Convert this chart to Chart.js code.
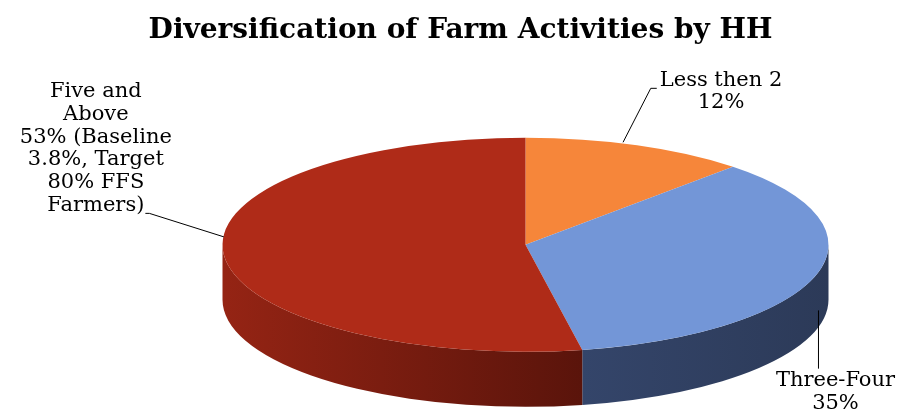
<!DOCTYPE html>
<html>
<head>
<meta charset="utf-8">
<script src="https://cdn.jsdelivr.net/npm/chart.js@4.4.1/dist/chart.umd.min.js"></script>
<style>
  html, body { margin: 0; padding: 0; background: #fff; }
  #wrap { width: 905px; height: 411px; }
</style>
</head>
<body>
<div id="wrap"><canvas id="farmPie" width="905" height="411"></canvas></div>
<script>
// データ
const categories = ['Less then 2', 'Three-Four', 'Five and Above'];
const shares = [12, 35, 53];
const labelLines = [
    ['Less then 2', '12%'],
    ['Three-Four', '35%'],
    ['Five and', 'Above', '53% (Baseline', '3.8%, Target', '80% FFS', 'Farmers)']
];

// 見た目
const topColors = ['#F6863A', '#7396D7', '#AF2B18'];
const sideColors = [['#C9631F', '#A04E18'], ['#34456A', '#2C3A58'], ['#952414', '#5A140B']];
const TILT = 107 / 303;   // 楕円の縦横比
const DEPTH = 55;         // 側面の厚み
const SHIFT_X = 65;       // タイトル中心からのずれ
const SERIF = '"DejaVu Serif", serif';
const LABEL_FONT = '21px ' + SERIF;
const LINE_H = 22.7;
// ラベル位置（アンカーからの相対位置）
const labelLayout = [
    { dx: 84, dy: -65, leader: 'left' },
    { dx: 19, dy: 106, leader: 'up' },
    { dx: -128, dy: -163, leader: 'right' }
];

function pieCenter(chart) {
    const arc = chart.getDatasetMeta(0).data[0];
    return { x: arc.x + SHIFT_X, y: arc.y, r: arc.outerRadius };
}

const pie3d = {
    id: 'pie3d',
    beforeDatasetsDraw(chart) {
        const ctx = chart.ctx;
        const arcs = chart.getDatasetMeta(0).data;
        const c = pieCenter(chart);
        const ry = c.r * TILT;
        ctx.save();
        // 側面（手前半分だけ）
        arcs.forEach((arc, i) => {
            const a0 = Math.max(arc.startAngle, 0);
            const a1 = Math.min(arc.endAngle, Math.PI);
            if (a1 <= a0) return;
            const xl = c.x + c.r * Math.cos(a1);
            const xr = c.x + c.r * Math.cos(a0);
            const g = ctx.createLinearGradient(Math.min(xl, xr), 0, Math.max(xl, xr), 0);
            g.addColorStop(0, sideColors[i][0]);
            g.addColorStop(1, sideColors[i][1]);
            ctx.beginPath();
            ctx.ellipse(c.x, c.y, c.r, ry, 0, a0, a1, false);
            ctx.ellipse(c.x, c.y + DEPTH, c.r, ry, 0, a1, a0, true);
            ctx.closePath();
            ctx.fillStyle = g;
            ctx.fill();
        });
        // 上面は楕円につぶして描く
        ctx.translate(c.x, c.y);
        ctx.scale(1, TILT);
        ctx.translate(-arcs[0].x, -arcs[0].y);
    },
    afterDatasetsDraw(chart) {
        const ctx = chart.ctx;
        ctx.restore();
        const arcs = chart.getDatasetMeta(0).data;
        const c = pieCenter(chart);
        const ry = c.r * TILT;
        ctx.save();
        ctx.font = LABEL_FONT;
        ctx.fillStyle = '#000';
        ctx.strokeStyle = '#000';
        ctx.lineWidth = 1;
        ctx.textAlign = 'center';
        ctx.textBaseline = 'middle';
        arcs.forEach((arc, i) => {
            const mid = (arc.startAngle + arc.endAngle) / 2;
            const ax = c.x + c.r * Math.cos(mid);
            const ay = c.y + ry * Math.sin(mid);
            const lay = labelLayout[i];
            const tx = ax + lay.dx;
            const ty = ay + lay.dy;
            const lines = labelLines[i];
            lines.forEach((t, k) => ctx.fillText(t, tx, ty + k * LINE_H));

            ctx.beginPath();
            if (lay.leader === 'left') {
                const w = ctx.measureText(lines[0]).width;
                const ex = tx - w / 2 - 9;
                ctx.moveTo(ax - 14, ay - 3);
                ctx.lineTo(ex, ty + 8);
                ctx.lineTo(ex + 6, ty + 8);
            } else if (lay.leader === 'up') {
                ctx.moveTo(ax + 2, ay + DEPTH * 0.65);
                ctx.lineTo(ax + 2, ty - 12);
            } else {
                const last = lines[lines.length - 1];
                const w = ctx.measureText(last).width;
                const ly = ty + (lines.length - 1) * LINE_H + 8;
                ctx.moveTo(tx + w / 2 + 1, ly);
                ctx.lineTo(tx + w / 2 + 5, ly);
                ctx.lineTo(ax, ay - 18);
            }
            ctx.stroke();
        });
        ctx.restore();
    }
};

new Chart(document.getElementById('farmPie').getContext('2d'), {
    type: 'pie',
    data: {
        labels: categories,
        datasets: [{
            data: shares,
            backgroundColor: topColors,
            borderWidth: 0,
            radius: 303
        }]
    },
    options: {
        responsive: false,
        animation: false,
        events: [],
        layout: { padding: { left: 16, right: 0, top: 0, bottom: 0 } },
        plugins: {
            legend: { display: false },
            tooltip: { enabled: false },
            title: {
                display: true,
                text: 'Diversification of Farm Activities by HH',
                color: '#000',
                font: { family: SERIF, size: 28, weight: 'bold' },
                padding: { top: 14, bottom: 31 }
            }
        }
    },
    plugins: [pie3d]
});
</script>
</body>
</html>
